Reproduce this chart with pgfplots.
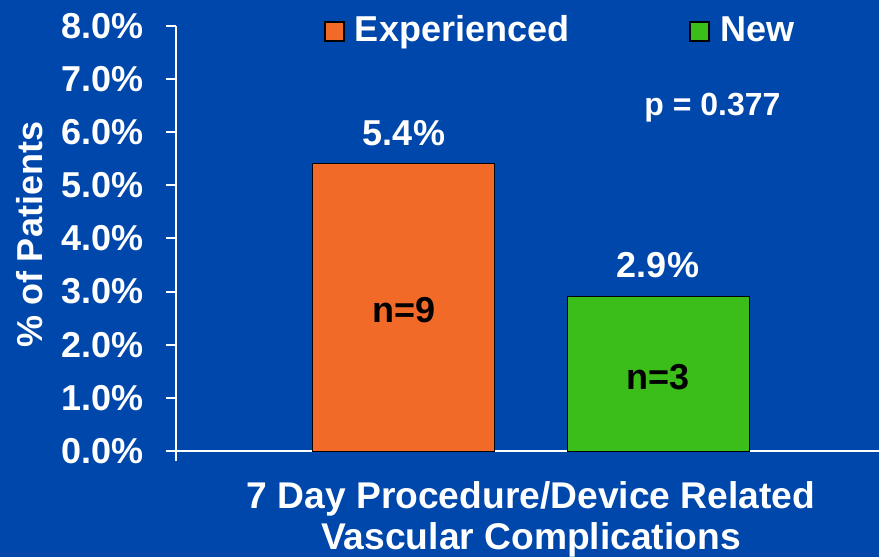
\documentclass[border=0pt]{standalone}
\usepackage{fontspec}
\setmainfont{Liberation Sans}
\usepackage{pgfplots}
\pgfplotsset{compat=1.18}

\definecolor{bgblue}{HTML}{0047AB}
\definecolor{barorange}{HTML}{F26A28}
\definecolor{bargreen}{HTML}{3CBE1A}

% 1 px of the reference = 0.5pt
\pgfplotsset{
  sq legend/.style={legend image code/.code={%
      \draw[##1, draw=black, line width=1pt] (0.5pt,-4.25pt) rectangle (10pt,5.25pt);}},
  bar label/.style={
    nodes near coords={\pgfmathprintnumber[fixed,fixed zerofill,precision=1]{\pgfplotspointmeta}\%},
    every node near coord/.append style={anchor=south, inner sep=0pt, yshift=9pt,
      text=white, font=\bfseries\fontsize{18}{21}\selectfont}},
}

\begin{document}
\begin{tikzpicture}
\fill[bgblue] (-88pt,-53pt) rectangle (351.5pt,225.5pt);
\path[use as bounding box] (-88pt,-53pt) rectangle (351.5pt,225.5pt);
\begin{axis}[
  scale only axis,
  width=351.5pt, height=212.65pt,
  xmin=0, xmax=703, ymin=0, ymax=8,
  clip=false,
  axis x line=bottom, axis y line=left,
  axis line style={white, line width=1pt, -},
  tick style={white, line width=1pt},
  major tick length=5pt, tick align=outside,
  xtick={0}, xticklabels={},
  ytick={0,1,...,8},
  /pgf/number format/assume math mode=true,
  yticklabel={\pgfmathprintnumber[fixed,fixed zerofill,precision=1]{\tick}\%},
  yticklabel style={text=white, xshift=-7.5pt, font=\bfseries\fontsize{18}{21}\selectfont},
  ylabel={\% of Patients},
  ylabel style={at={(axis description cs:-0.2077,0.508)}, anchor=center,
    text=white, font=\bfseries\fontsize{18}{21}\selectfont},
  legend columns=2,
  legend style={at={(axis cs:148,7.88)}, anchor=west, draw=none, fill=none,
    inner sep=0pt, outer sep=0pt, text=white,
    font=\bfseries\fontsize{18}{21}\selectfont,
    nodes={inner sep=0pt, text height=13.1pt, text depth=3.8pt},
    /tikz/every odd column/.append style={column sep=5pt},
    /tikz/every even column/.append style={column sep=60pt}},
]
\addplot[ybar, bar width=182, fill=barorange, draw=black, line width=0.5pt,
  bar label, sq legend] coordinates {(228,5.4)};
\addlegendentry{Experienced}
\addplot[ybar, bar width=182, fill=bargreen, draw=black, line width=0.5pt,
  bar label, sq legend] coordinates {(482,2.9)};
\addlegendentry{New}

\node[anchor=base, font=\bfseries\fontsize{18}{21}\selectfont] at (axis cs:228,2.41) {n=9};
\node[anchor=base, font=\bfseries\fontsize{18}{21}\selectfont] at (axis cs:482,1.165) {n=3};
\node[anchor=base, text=white, font=\bfseries\fontsize{16}{19}\selectfont] at (axis cs:536.5,6.32) {p = 0.377};
\node[anchor=base, yshift=-28.5pt, text=white, font=\bfseries\fontsize{18.6}{21}\selectfont]
  at (axis cs:355,0) {7 Day Procedure/Device Related};
\node[anchor=base, yshift=-49pt, text=white, font=\bfseries\fontsize{18.6}{21}\selectfont]
  at (axis cs:355,0) {Vascular Complications};
\end{axis}
\end{tikzpicture}
\end{document}
